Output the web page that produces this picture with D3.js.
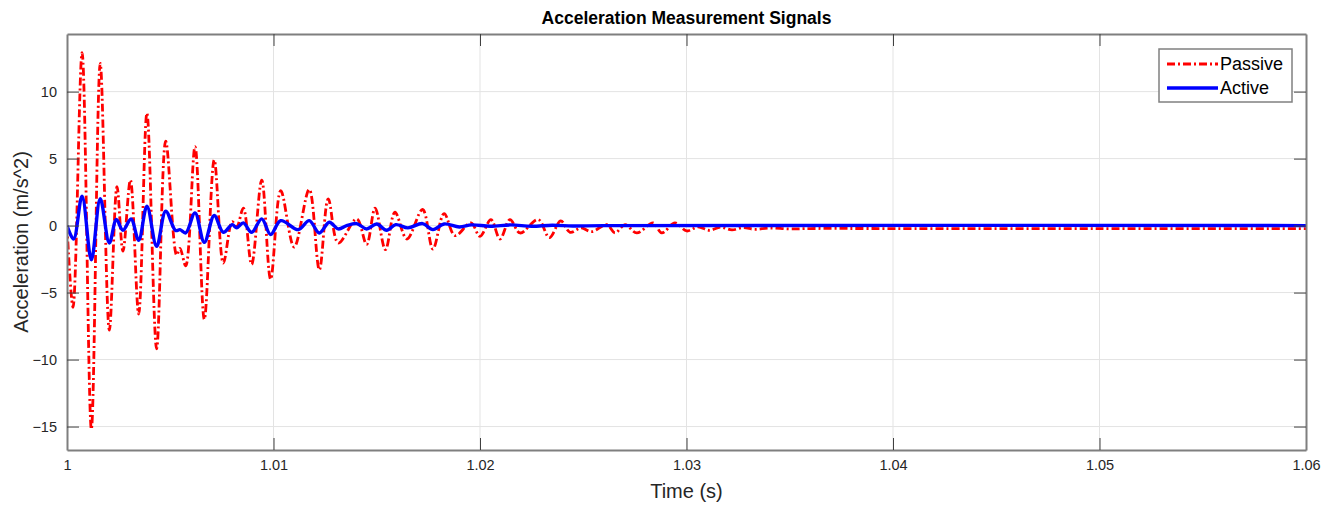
<!DOCTYPE html>
<html>
<head>
<meta charset="utf-8">
<script src="https://cdn.jsdelivr.net/npm/d3@7"></script>
<style>
  body { margin: 0; background: #fff; }
  svg { display: block; font-family: "Liberation Sans", Arial, sans-serif; }
</style>
</head>
<body>
<svg id="chart" width="1336" height="508"></svg>
<script>
// ---- data (extrema; curve drawn smoothly through them) ----
const passiveTime = [1.00000,1.00029,1.00073,1.00118,1.00161,1.00205,1.00242,1.00271,1.00307,1.00347,
  1.00387,1.00434,1.00478,1.00531,1.00547,1.00575,1.00620,1.00665,1.00713,1.00757,
  1.00800,1.00822,1.00854,1.00894,1.00943,1.00986,1.01035,1.01100,1.01173,1.01222,
  1.01265,1.01314,1.01403,1.01451,1.01492,1.01542,1.01588,1.01646,1.01722,1.01772,
  1.01826,1.01879,1.01956,1.02000,1.02053,1.02097,1.02145,1.02194,1.02282,1.02336,
  1.02391,1.02436,1.02490,1.02540,1.02614,1.02654,1.02702,1.02759,1.02839,1.02880,
  1.02944,1.03001,1.03055,1.03110,1.03165,1.03220,1.03275,1.03330,1.03400,1.03500,
  1.03600,1.04000,1.05000,1.06000];
const passiveValue = [0,-6.1,12.9,-15.2,12.1,-7.8,2.9,-1.9,3.4,-6.6,
  8.4,-9.2,6.3,-2.2,-1.7,-3.0,5.9,-7.0,4.9,-2.8,
  0.3,-0.1,1.3,-2.9,3.4,-4.0,2.6,-1.6,2.7,-3.3,
  2.0,-1.3,0.5,-1.4,1.3,-1.8,1.0,-1.0,1.2,-1.75,
  0.9,-0.75,0.2,-0.8,0.45,-1.0,0.45,-0.55,0.45,-0.9,
  0.35,-0.5,-0.17,-0.45,0.07,-0.55,0.07,-0.55,0.2,-0.55,
  0.2,-0.4,-0.1,-0.35,-0.12,-0.32,-0.15,-0.28,-0.18,-0.25,
  -0.22,-0.22,-0.22,-0.22];

const activeTime = [1.00000,1.00032,1.00073,1.00118,1.00161,1.00205,1.00239,1.00271,1.00310,1.00347,
  1.00387,1.00434,1.00478,1.00526,1.00547,1.00575,1.00620,1.00665,1.00713,1.00757,
  1.00800,1.00822,1.00854,1.00894,1.00943,1.00986,1.01035,1.01120,1.01173,1.01222,
  1.01270,1.01314,1.01354,1.01403,1.01451,1.01500,1.01548,1.01592,1.01651,1.01722,
  1.01772,1.01826,1.01900,1.01960,1.02050,1.02150,1.02250,1.02350,1.02450,1.02600,
  1.06000];
const activeValue = [0,-1.0,2.2,-2.55,2.0,-1.3,0.45,-0.35,0.5,-1.1,
  1.45,-1.55,1.07,-0.37,-0.3,-0.55,0.95,-1.25,0.75,-0.5,
  0.07,-0.17,0.2,-0.5,0.5,-0.67,0.37,-0.3,0.37,-0.55,
  0.25,-0.25,0.0,0.15,-0.25,0.12,-0.35,0.07,-0.17,0.15,
  -0.3,0.12,-0.1,0.05,-0.05,0.05,-0.05,0.03,-0.03,0.0,
  0.0];

const xTicks = [1, 1.01, 1.02, 1.03, 1.04, 1.05, 1.06];
const xTickLabels = ["1", "1.01", "1.02", "1.03", "1.04", "1.05", "1.06"];
const yTicks = [-15, -10, -5, 0, 5, 10];
const seriesNames = ["Passive", "Active"];

// ---- layout ----
const svg = d3.select("#chart");
const L = 67, R = 1306, T = 34, B = 450;

const x = d3.scaleLinear().domain([1, 1.06]).range([L, R]);
const y = d3.scaleLinear().domain([-16.75, 14.3]).range([B, T]);

// grid
const grid = svg.append("g");
grid.selectAll(".gx").data(xTicks.slice(1, -1)).enter().append("line")
  .attr("x1", d => x(d)).attr("x2", d => x(d)).attr("y1", T).attr("y2", B)
  .attr("stroke", "#e3e3e3").attr("stroke-width", 1);
grid.selectAll(".gy").data(yTicks).enter().append("line")
  .attr("x1", L).attr("x2", R).attr("y1", d => y(d)).attr("y2", d => y(d))
  .attr("stroke", "#e3e3e3").attr("stroke-width", 1);

// lines
svg.append("clipPath").attr("id", "clip").append("rect")
  .attr("x", L).attr("y", T).attr("width", R - L).attr("height", B - T);

const passive = passiveTime.map((t, i) => [t, passiveValue[i]]);
const active = activeTime.map((t, i) => [t, activeValue[i]]);
const line = d3.line().x(d => x(d[0])).y(d => y(d[1])).curve(d3.curveCatmullRom.alpha(0.5));

const plot = svg.append("g").attr("clip-path", "url(#clip)");
plot.append("path").datum(passive).attr("d", line)
  .attr("fill", "none").attr("stroke", "#ff0000").attr("stroke-width", 2.8)
  .attr("stroke-dasharray", "8,3,2,3");
plot.append("path").datum(active).attr("d", line)
  .attr("fill", "none").attr("stroke", "#0000ff").attr("stroke-width", 3.4)
  .attr("stroke-linejoin", "round");

// axes (MATLAB style, ticks inward, box on)
const axisColor = "#7f7f7f";
const tickLen = 12;
const xAxisB = d3.axisBottom(x).tickValues(xTicks).tickFormat((d, i) => xTickLabels[i])
  .tickSizeInner(-tickLen).tickSizeOuter(0).tickPadding(10);
const gxb = svg.append("g").attr("transform", `translate(0,${B})`).call(xAxisB);
const xAxisT = d3.axisTop(x).tickValues(xTicks).tickFormat("").tickSizeInner(-tickLen).tickSizeOuter(0);
const gxt = svg.append("g").attr("transform", `translate(0,${T})`).call(xAxisT);
const yAxisL = d3.axisLeft(y).tickValues(yTicks).tickFormat(d3.format("d"))
  .tickSizeInner(-tickLen).tickSizeOuter(0).tickPadding(10);
const gyl = svg.append("g").attr("transform", `translate(${L},0)`).call(yAxisL);
const yAxisR = d3.axisRight(y).tickValues(yTicks).tickFormat("").tickSizeInner(-tickLen).tickSizeOuter(0);
const gyr = svg.append("g").attr("transform", `translate(${R},0)`).call(yAxisR);

[gxb, gxt, gyl, gyr].forEach(g => {
  g.select(".domain").attr("stroke", axisColor).attr("stroke-width", 2);
  g.selectAll(".tick line").attr("stroke", "#404040").attr("stroke-width", 1);
  g.selectAll("text").attr("fill", "#262626").style("font-size", "14.5px")
    .style("font-family", "'Liberation Sans', Arial, sans-serif");
});
gxb.selectAll(".tick line").filter(d => d === 1 || d === 1.06).remove();
gxt.selectAll(".tick line").filter(d => d === 1 || d === 1.06).remove();

// labels
svg.append("text").attr("x", (L + R) / 2).attr("y", 24).attr("text-anchor", "middle")
  .style("font-weight", "bold").style("font-size", "17.5px").attr("fill", "#000")
  .text("Acceleration Measurement Signals");
svg.append("text").attr("x", (L + R) / 2).attr("y", 498).attr("text-anchor", "middle")
  .style("font-size", "20px").attr("fill", "#262626").text("Time (s)");
svg.append("text").attr("transform", `translate(28,${(T + B) / 2}) rotate(-90)`)
  .attr("text-anchor", "middle").style("font-size", "20px").attr("fill", "#262626")
  .text("Acceleration (m/s^2)");

// legend
const lg = svg.append("g");
lg.append("rect").attr("x", 1159).attr("y", 49).attr("width", 133).attr("height", 53)
  .attr("fill", "#fff").attr("stroke", "#808080").attr("stroke-width", 1.5);
const legColors = ["#ff0000", "#0000ff"];
const legDash = ["8,3,2,3", null];
const legWidth = [2.8, 3.4];
seriesNames.forEach((name, i) => {
  const yy = 64 + i * 24;
  lg.append("line").attr("x1", 1167).attr("x2", 1218).attr("y1", yy).attr("y2", yy)
    .attr("stroke", legColors[i]).attr("stroke-width", legWidth[i])
    .attr("stroke-dasharray", legDash[i]);
  lg.append("text").attr("x", 1220).attr("y", yy + 6).style("font-size", "18px")
    .attr("fill", "#000").text(name);
});
</script>
</body>
</html>
